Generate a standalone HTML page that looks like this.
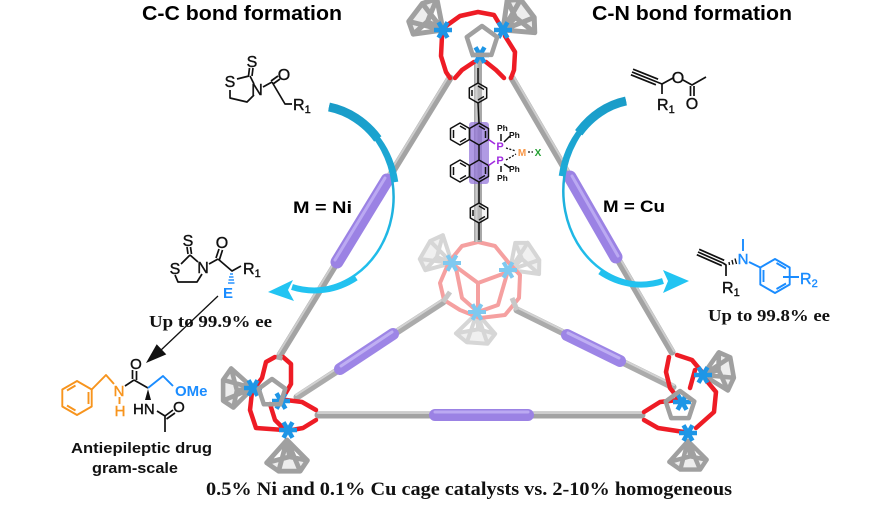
<!DOCTYPE html>
<html><head><meta charset="utf-8"><style>
html,body{margin:0;padding:0;background:#fff;}
svg{display:block;}
.sans{font-family:"Liberation Sans",Arial,sans-serif;}
.serif{font-family:"Liberation Serif","Times New Roman",serif;}
</style></head><body>
<svg width="892" height="505" viewBox="0 0 892 505" xmlns="http://www.w3.org/2000/svg">
<defs>
<g id="cone" stroke-linejoin="round" stroke-linecap="round">
<path d="M0,0 L-17,19 M0,0 L-7,26 M0,0 L11,26 M0,0 L17,17 M0,0 L2,14 M-17,19 L-7,26 L11,26 L17,17 L2,14 Z"/>
</g>
<g id="star">
<path d="M0,0 L9,0 M0,0 L4.5,7.8 M0,0 L-4.5,7.8 M0,0 L-9,0 M0,0 L-4.5,-7.8 M0,0 L4.5,-7.8"/>
<circle r="4" stroke="none"/>
</g>
<linearGradient id="gL" x1="0" y1="105" x2="0" y2="295" gradientUnits="userSpaceOnUse">
<stop offset="0" stop-color="#1a9cc8"/><stop offset="1" stop-color="#22c4f2"/>
</linearGradient>
<linearGradient id="gR" x1="0" y1="100" x2="0" y2="295" gradientUnits="userSpaceOnUse">
<stop offset="0" stop-color="#1a9cc8"/><stop offset="1" stop-color="#22c4f2"/>
</linearGradient>
</defs>
<rect width="892" height="505" fill="#fff"/>

<!-- Titles -->
<text class="sans" x="142" y="20" font-size="20" font-weight="bold" textLength="200" lengthAdjust="spacingAndGlyphs">C-C bond formation</text>
<text class="sans" x="592" y="20" font-size="20" font-weight="bold" textLength="200" lengthAdjust="spacingAndGlyphs">C-N bond formation</text>

<!-- Back rods -->
<g stroke-linecap="round">
<line x1="443" y1="302" x2="297" y2="397" stroke="#ababab" stroke-width="7"/>
<line x1="442" y1="300" x2="296" y2="395" stroke="#d2d2d2" stroke-width="2"/>
<line x1="393" y1="334" x2="340" y2="369" stroke="#9d85e6" stroke-width="12"/>
<line x1="392" y1="332" x2="341" y2="366" stroke="#bfaff3" stroke-width="3"/>
<line x1="517" y1="310" x2="673" y2="387" stroke="#ababab" stroke-width="7"/>
<line x1="518" y1="308" x2="674" y2="385" stroke="#d2d2d2" stroke-width="2"/>
<line x1="567" y1="335" x2="620" y2="361" stroke="#9d85e6" stroke-width="12"/>
<line x1="568" y1="333" x2="619" y2="358" stroke="#bfaff3" stroke-width="3"/>
</g>

<!-- Back node (faded) -->
<g>
<use href="#cone" fill="#f0f0f0" stroke="#d6d6d6" stroke-width="3.5" transform="translate(452,263) rotate(120) scale(1.15)"/>
<use href="#cone" fill="#f0f0f0" stroke="#d6d6d6" stroke-width="3.5" transform="translate(510,270) rotate(-124) scale(1.15)"/>
<use href="#cone" fill="#f0f0f0" stroke="#d6d6d6" stroke-width="3.5" transform="translate(477,313) rotate(4) scale(1.15)"/>
<g fill="none" stroke="#f5a0a0" stroke-width="4" stroke-linejoin="round">
<path d="M449,262 L462,246 L478,242 L495,246 L508,262 L520,275 L519,298 L505,315 L480,318 L460,310 L444,300 L440,283 Z"/>
<path d="M455,266 L478,283 L508,272 M478,283 L478,310"/>
<path d="M456,268 L462,298 L478,312 L498,305 L507,274"/>
</g>
<use href="#star" fill="#7fc9f0" stroke="#7fc9f0" stroke-width="4" transform="translate(452,263)"/>
<use href="#star" fill="#7fc9f0" stroke="#7fc9f0" stroke-width="4" transform="translate(508,270)"/>
<use href="#star" fill="#7fc9f0" stroke="#7fc9f0" stroke-width="4" transform="translate(477,312)"/>
<line x1="443" y1="302" x2="450" y2="292" stroke="#c8c8c8" stroke-width="5"/>
<line x1="517" y1="310" x2="512" y2="298" stroke="#c8c8c8" stroke-width="5"/>
</g>

<!-- central ligand rod -->
<line x1="478" y1="60" x2="478" y2="242" stroke="#a8a8a8" stroke-width="8"/>
<line x1="476.5" y1="60" x2="476.5" y2="242" stroke="#cccccc" stroke-width="2"/>

<!-- Front rods -->
<g stroke-linecap="round">
<line x1="450" y1="78" x2="280" y2="355" stroke="#a3a3a3" stroke-width="7"/>
<line x1="448" y1="77" x2="278" y2="354" stroke="#cdcdcd" stroke-width="2"/>
<line x1="387" y1="180" x2="337" y2="262" stroke="#9b82e4" stroke-width="13"/>
<line x1="385" y1="178" x2="335" y2="260" stroke="#bba9f2" stroke-width="3"/>
<line x1="512" y1="78" x2="672" y2="352" stroke="#a3a3a3" stroke-width="7"/>
<line x1="514" y1="77" x2="674" y2="351" stroke="#cdcdcd" stroke-width="2"/>
<line x1="570" y1="177" x2="616" y2="257" stroke="#9b82e4" stroke-width="13"/>
<line x1="572" y1="176" x2="618" y2="256" stroke="#bba9f2" stroke-width="3"/>
<line x1="318" y1="415" x2="642" y2="415" stroke="#a3a3a3" stroke-width="7"/>
<line x1="318" y1="413" x2="642" y2="413" stroke="#cdcdcd" stroke-width="2"/>
<line x1="435" y1="415" x2="528" y2="415" stroke="#9b82e4" stroke-width="12"/>
<line x1="435" y1="412" x2="528" y2="412" stroke="#bba9f2" stroke-width="3"/>
</g>

<!-- Top node -->
<g>
<use href="#cone" fill="#dcdcdc" fill-opacity="0.5" stroke="#a0a0a0" stroke-width="4" transform="translate(443,30) rotate(127) scale(1.25)"/>
<use href="#cone" fill="#dcdcdc" fill-opacity="0.5" stroke="#a0a0a0" stroke-width="4" transform="translate(503,30) rotate(-127) scale(1.25)"/>
<g fill="none" stroke="#ee1c25" stroke-width="4.5" stroke-linejoin="round" stroke-linecap="round">
<path d="M446,26 L460,16 L478,12 L494,15 L500,25"/>
<path d="M442,36 L441,56 L446,72 L450,78"/>
<path d="M505,36 L515,52 L514,70 L511,78"/>
<path d="M474,62 L462,70 L455,78 M486,62 L496,70 L504,78"/>
</g>
<use href="#star" fill="#1e96e6" stroke="#1e96e6" stroke-width="4.5" transform="translate(443,30)"/>
<use href="#star" fill="#1e96e6" stroke="#1e96e6" stroke-width="4.5" transform="translate(503,30)"/>
<use href="#star" fill="#1e96e6" stroke="#1e96e6" stroke-width="4.5" transform="translate(480,55)"/>
<polygon points="482,26 497.2,37.1 491.4,54.9 472.6,54.9 466.8,37.1" fill="none" stroke="#a0a0a0" stroke-width="4.5" stroke-linejoin="round"/>
</g>

<!-- Lower-left node -->
<g>
<use href="#cone" fill="#dcdcdc" fill-opacity="0.5" stroke="#a0a0a0" stroke-width="4" transform="translate(253,388) rotate(90) scale(1.15)"/>
<use href="#cone" fill="#dcdcdc" fill-opacity="0.5" stroke="#a0a0a0" stroke-width="4" transform="translate(287,440) scale(1.2)"/>
<g fill="none" stroke="#ee1c25" stroke-width="4.5" stroke-linejoin="round" stroke-linecap="round">
<path d="M275,357 L266,362 L262,378 L256,386"/>
<path d="M283,357 L291,364 L291,384 L284,396"/>
<path d="M252,392 L250,410 L256,428 L284,430"/>
<path d="M286,400 L302,402 L316,410 M316,420 L303,428 L292,430"/>
<path d="M270,404 L275,420 L283,428"/>
</g>
<use href="#star" fill="#1e96e6" stroke="#1e96e6" stroke-width="4.5" transform="translate(253,388)"/>
<use href="#star" fill="#1e96e6" stroke="#1e96e6" stroke-width="4.5" transform="translate(281,401)"/>
<use href="#star" fill="#1e96e6" stroke="#1e96e6" stroke-width="4.5" transform="translate(288,430)"/>
<polygon points="272,379 285.3,388.7 280.2,404.3 263.8,404.3 258.7,388.7" fill="none" stroke="#a0a0a0" stroke-width="4.5" stroke-linejoin="round"/>
<line x1="280" y1="355" x2="279" y2="360" stroke="#a8a8a8" stroke-width="6"/>
</g>

<!-- Lower-right node -->
<g>
<use href="#cone" fill="#dcdcdc" fill-opacity="0.5" stroke="#a0a0a0" stroke-width="4" transform="translate(703,375) rotate(-100) scale(1.15)"/>
<use href="#cone" fill="#dcdcdc" fill-opacity="0.5" stroke="#a0a0a0" stroke-width="4" transform="translate(688,441) scale(1.1)"/>
<g fill="none" stroke="#ee1c25" stroke-width="4.5" stroke-linejoin="round" stroke-linecap="round">
<path d="M669,357 L666,372 L670,388 L678,398"/>
<path d="M677,355 L692,360 L702,372"/>
<path d="M706,380 L716,392 L714,412 L696,428"/>
<path d="M644,412 L660,402 L678,400 M644,420 L658,428 L684,432"/>
<path d="M695,370 L690,388"/>
</g>
<use href="#star" fill="#1e96e6" stroke="#1e96e6" stroke-width="4.5" transform="translate(703,375)"/>
<use href="#star" fill="#1e96e6" stroke="#1e96e6" stroke-width="4.5" transform="translate(682,402)"/>
<use href="#star" fill="#1e96e6" stroke="#1e96e6" stroke-width="4.5" transform="translate(688,433)"/>
<polygon points="680,391 694.3,401.4 688.8,418.1 671.2,418.1 665.7,401.4" fill="none" stroke="#a0a0a0" stroke-width="4.5" stroke-linejoin="round"/>
</g>

<!-- Central ligand drawing -->
<rect x="469" y="122" width="20" height="62" rx="3" fill="#8f6fd8" opacity="0.7"/>
<g fill="none" stroke="#111" stroke-width="1.5" stroke-linejoin="round">
<polygon points="478,83 486.7,88 486.7,98 478,103 469.3,98 469.3,88" fill="#d9d9d9" fill-opacity="0.3"/>
<path d="M472,90 L472,96 M478,86 L484,89.5 M478,100 L484,96.5"/>
<path d="M478,68 L478,83 M478,103 L479,123"/>
<polygon points="479,123 488.5,128.5 488.5,139.5 479,145 469.5,139.5 469.5,128.5"/>
<polygon points="460,123 469.5,128.5 469.5,139.5 460,145 450.5,139.5 450.5,128.5"/>
<path d="M453.5,130 L453.5,138 M460,126 L466,129.5 M460,142 L466,138.5 M479,126 L485,129.5 M485.5,131 L485.5,138"/>
<path d="M479,145 L479,160"/>
<polygon points="479,160 488.5,165.5 488.5,176.5 479,182 469.5,176.5 469.5,165.5"/>
<polygon points="460,160 469.5,165.5 469.5,176.5 460,182 450.5,176.5 450.5,165.5"/>
<path d="M453.5,167 L453.5,175 M460,163 L466,166.5 M460,179 L466,175.5 M479,179 L485,175.5 M485.5,167 L485.5,174"/>
<path d="M479,182 L479,203"/>
<polygon points="479,203 487.7,208 487.7,218 479,223 470.3,218 470.3,208" fill="#d9d9d9" fill-opacity="0.3"/>
<path d="M473,210 L473,216 M479,206 L485,209.5 M479,220 L485,216.5"/>
<path d="M479,223 L479,240"/>
<path d="M501,141 L501,134 M504,142 L510,136 M504,164 L510,168 M501,166 L501,172"/>
</g>
<g stroke="#a12ce0" stroke-width="1.6"><line x1="488.5" y1="139.5" x2="495" y2="144"/><line x1="488.5" y1="165.5" x2="495" y2="161"/></g>
<g stroke="#111" stroke-width="1.3" stroke-dasharray="2,1.5"><line x1="506" y1="148" x2="516" y2="151"/><line x1="506" y1="160" x2="516" y2="154"/><line x1="528" y1="152" x2="533" y2="152"/></g>
<g class="sans" font-weight="bold">
<text x="500" y="150" font-size="11" fill="#a12ce0" text-anchor="middle">P</text>
<text x="500" y="164" font-size="11" fill="#a12ce0" text-anchor="middle">P</text>
<text x="497" y="131" font-size="8.5" fill="#111">Ph</text>
<text x="509" y="138" font-size="8.5" fill="#111">Ph</text>
<text x="509" y="172" font-size="8.5" fill="#111">Ph</text>
<text x="497" y="181" font-size="8.5" fill="#111">Ph</text>
<text x="522" y="156" font-size="10" fill="#f79646" text-anchor="middle">M</text>
<text x="538" y="156" font-size="10" fill="#22a030" text-anchor="middle">X</text>
</g>

<!-- Blue arrows -->
<g fill="none" stroke-linecap="butt">
<path d="M329,107 A82,92 0 1,1 294,287" stroke="url(#gL)" stroke-width="2.5"/>
<path d="M329,107 A82,92 0 0,1 395.8,182" stroke="url(#gL)" stroke-width="5"/>
<path d="M329,107 A82,92 0 0,1 377.8,138.9" stroke="url(#gL)" stroke-width="9"/>
<path d="M356,277.7 A82,92 0 0,1 292,287" stroke="url(#gL)" stroke-width="6"/>
<path d="M626,101 A80,92 0 1,0 661,281" stroke="url(#gR)" stroke-width="2.5"/>
<path d="M626,101 A80,92 0 0,0 561.2,176" stroke="url(#gR)" stroke-width="5"/>
<path d="M626,101 A80,92 0 0,0 578.7,132.8" stroke="url(#gR)" stroke-width="9"/>
<path d="M600,271.7 A80,92 0 0,0 663,281" stroke="url(#gR)" stroke-width="6"/>
</g>
<polygon points="268,292 293,280 288,290 294,301" fill="#22c4f2"/>
<polygon points="689,281 663,270 668,281 663,293" fill="#22c4f2"/>

<text class="sans" x="293" y="213" font-size="17" font-weight="bold" textLength="59" lengthAdjust="spacingAndGlyphs">M = Ni</text>
<text class="sans" x="603" y="212" font-size="17" font-weight="bold" textLength="62" lengthAdjust="spacingAndGlyphs">M = Cu</text>

<!-- Top-left reactant -->
<g fill="none" stroke="#111" stroke-width="1.7" stroke-linejoin="round">
<path d="M237,79 L249,76 M248.5,76 L249.5,68 M252,76 L253,68 M250,76 L254,84 M254,95 L247,102 L230,98 L230,90"/>
<path d="M263,87 L272,82 M271,81 L278,76 M273,84 L280,79 M272,82 L285,104 L292,104"/>
</g>
<g class="sans" font-size="16" fill="#111" stroke="#111" stroke-width="0.4" text-anchor="middle">
<text x="252" y="67">S</text><text x="230" y="87">S</text><text x="257" y="95">N</text><text x="284" y="80">O</text>
</g>
<text class="sans" x="293" y="110" font-size="16" fill="#111" stroke="#111" stroke-width="0.4">R<tspan font-size="11" dy="3">1</tspan></text>

<!-- Top-right reactant -->
<g fill="none" stroke="#111" stroke-width="1.7" stroke-linejoin="round">
<path d="M632,72 L657,82 M630.9,74.8 L655.9,84.8 M633.1,69.2 L658.1,79.2"/>
<path d="M657,82 L662,84 L662,94 M662,84 L673,78 M683,80 L692,85 L706,77 M690.5,86 L690.5,96 M694,86 L694,96"/>
</g>
<g class="sans" font-size="16" fill="#111" stroke="#111" stroke-width="0.4" text-anchor="middle">
<text x="678" y="83">O</text><text x="692" y="109">O</text>
</g>
<text class="sans" x="657" y="110" font-size="16" fill="#111" stroke="#111" stroke-width="0.4">R<tspan font-size="11" dy="3">1</tspan></text>

<!-- Middle-left product -->
<g fill="none" stroke="#111" stroke-width="1.7" stroke-linejoin="round">
<path d="M181,264 L190,255 M188,254 L187,247 M191.5,254 L190.5,247 M190,255 L198,262 M202,274 L197,282 L178,282 L175,275"/>
<path d="M209,264 L218,259 M216,258 L219,249 M219.5,259.5 L222.5,250 M218,259 L232,271 L241,266"/>
</g>
<g stroke="#1a8cff" stroke-width="1.4">
<line x1="230" y1="274" x2="233" y2="274"/><line x1="229" y1="277" x2="233.5" y2="277"/><line x1="228.5" y1="280" x2="234" y2="280"/><line x1="228" y1="283" x2="234.5" y2="283"/>
</g>
<g class="sans" font-size="16" fill="#111" stroke="#111" stroke-width="0.4" text-anchor="middle">
<text x="188" y="246">S</text><text x="175" y="274">S</text><text x="203" y="273">N</text><text x="222" y="248">O</text>
</g>
<text class="sans" x="243" y="274" font-size="16" fill="#111" stroke="#111" stroke-width="0.4">R<tspan font-size="11" dy="3">1</tspan></text>
<text class="sans" x="228" y="298" font-size="15" font-weight="bold" fill="#1a8cff" text-anchor="middle">E</text>
<text class="serif" x="149" y="327" font-size="17" font-weight="bold" fill="#111" textLength="123" lengthAdjust="spacingAndGlyphs">Up to 99.9% ee</text>

<!-- black arrow -->
<line x1="218" y1="296" x2="160" y2="351" stroke="#111" stroke-width="1.3"/>
<polygon points="146,363 156.7,344.2 166.3,354.4" fill="#111"/>

<!-- Drug -->
<g fill="none" stroke="#f7941d" stroke-width="1.9" stroke-linejoin="round">
<polygon points="77,381 91.7,389.5 91.7,406.5 77,415 62.3,406.5 62.3,389.5"/>
<path d="M67,390.5 L75.5,385.5 M88.5,392 L88.5,404 M75.5,410.5 L67,405.5"/>
<path d="M91.7,389.5 L106,375 L114,384 M119.5,397 L119.5,404"/>
</g>
<g fill="none" stroke="#111" stroke-width="1.7" stroke-linejoin="round">
<path d="M125,386 L134,380 M132.5,379 L132.5,370 M136.5,380 L136.5,371 M134,380 L148,388"/>
<path d="M157,411 L165,416 L173,410 M166.5,419 L175,413 M165,416 L165,432"/>
</g>
<polygon points="148,389 145,400 151,400" fill="#111"/>
<path d="M148,388 L163,376 L173,386" fill="none" stroke="#1a8cff" stroke-width="1.9" stroke-linejoin="round"/>
<g class="sans" font-size="15" stroke-width="0.4">
<text x="119" y="396" fill="#f7941d" stroke="#f7941d" text-anchor="middle">N</text>
<text x="120" y="416" fill="#f7941d" stroke="#f7941d" text-anchor="middle">H</text>
<text x="136" y="369" fill="#111" stroke="#111" text-anchor="middle">O</text>
<text x="133" y="414" fill="#111" stroke="#111">HN</text>
<text x="179" y="412" fill="#111" stroke="#111" text-anchor="middle">O</text>
<text x="175" y="396" fill="#1a8cff" font-weight="bold">OMe</text>
</g>
<text class="sans" x="71" y="453" font-size="15" font-weight="bold" fill="#111" textLength="141" lengthAdjust="spacingAndGlyphs">Antiepileptic drug</text>
<text class="sans" x="92" y="473" font-size="15" font-weight="bold" fill="#111" textLength="86" lengthAdjust="spacingAndGlyphs">gram-scale</text>

<!-- Right product -->
<g fill="none" stroke="#111" stroke-width="1.7" stroke-linejoin="round">
<path d="M698,252 L723,263 M696.8,254.7 L721.8,265.7 M699.2,249.3 L724.2,260.3"/>
<path d="M723,263 L726,265 L726,276"/>
</g>
<g stroke="#111" stroke-width="1.4">
<line x1="729" y1="262" x2="729.5" y2="265"/><line x1="732" y1="260" x2="733" y2="264.5"/><line x1="735" y1="258.5" x2="736.5" y2="264"/>
</g>
<g fill="none" stroke="#1a8cff" stroke-width="1.9" stroke-linejoin="round">
<path d="M743,251 L743,239 M749,262 L760.3,267.5"/>
<polygon points="775,259 789.7,267.5 789.7,284.5 775,293 760.3,284.5 760.3,267.5"/>
<path d="M763.5,270 L763.5,282 M776.5,263 L786,268.5 M776.5,289 L786,283.5 M783,277 L799,277"/>
</g>
<text class="sans" x="743" y="264" font-size="15" fill="#1a8cff" stroke="#1a8cff" stroke-width="0.4" text-anchor="middle">N</text>
<text class="sans" x="722" y="293" font-size="16" fill="#111" stroke="#111" stroke-width="0.4">R<tspan font-size="11" dy="3">1</tspan></text>
<text class="sans" x="800" y="284" font-size="16" fill="#1a8cff" stroke="#1a8cff" stroke-width="0.4">R<tspan font-size="11" dy="3">2</tspan></text>
<text class="serif" x="708" y="321" font-size="17" font-weight="bold" fill="#111" textLength="122" lengthAdjust="spacingAndGlyphs">Up to 99.8% ee</text>

<!-- Bottom caption -->
<text class="serif" x="206" y="495" font-size="19" font-weight="bold" fill="#111" textLength="526" lengthAdjust="spacingAndGlyphs">0.5% Ni and 0.1% Cu cage catalysts vs. 2-10% homogeneous</text>
</svg>
</body></html>
